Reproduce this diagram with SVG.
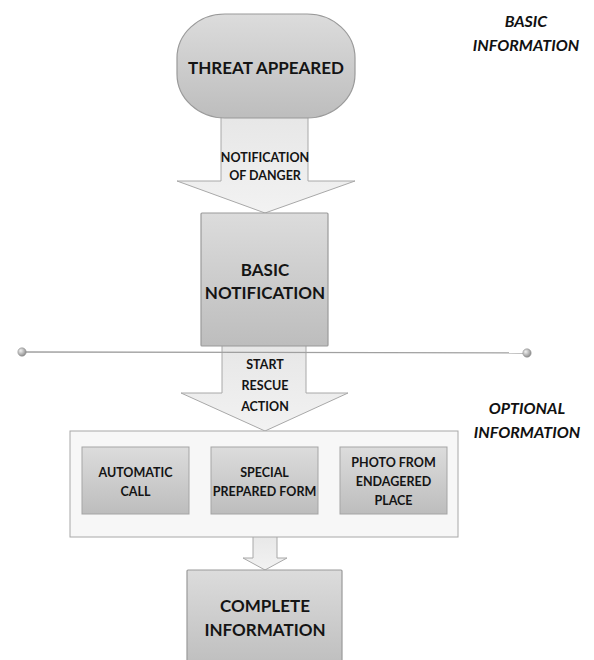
<svg xmlns="http://www.w3.org/2000/svg" width="594" height="660" viewBox="0 0 594 660">
<defs>
<linearGradient id="gNode" x1="0" y1="0" x2="0" y2="1">
<stop offset="0" stop-color="#dcdcdc"/><stop offset="1" stop-color="#bdbdbd"/>
</linearGradient>
<linearGradient id="gArrow" x1="0" y1="0" x2="0" y2="1">
<stop offset="0" stop-color="#e6e6e6"/><stop offset="1" stop-color="#f2f2f2"/>
</linearGradient>
<radialGradient id="gDot" cx="0.35" cy="0.35" r="0.7">
<stop offset="0" stop-color="#f0f0f0"/><stop offset="1" stop-color="#8a8a8a"/>
</radialGradient>
<style>
.node{fill:url(#gNode);stroke:#9a9a9a;stroke-width:1.2}
.inner{fill:url(#gNode);stroke:#a5a5a5;stroke-width:1}
.arrow{fill:url(#gArrow);stroke:#a8a8a8;stroke-width:1}
.t{font-family:Lato,"Liberation Sans",sans-serif;font-weight:bold;fill:#141414;text-anchor:middle}
.big{font-size:17px}
.sm{font-size:12.5px}
.side{font-family:Lato,"Liberation Sans",sans-serif;font-weight:bold;font-style:italic;font-size:16px;fill:#111;text-anchor:middle}
</style>
</defs>
<rect width="594" height="660" fill="#ffffff"/>
<g id="connectors">
<polygon class="arrow" points="221,110 308,110 308,181 355,181 265,213 177,181 221,181"/>
<polygon class="arrow" points="222,340 306,340 306,393 348,393 265,431 181,393 222,393"/>
<polygon class="arrow" points="253,530 277,530 277,558 287,558 265,570 243,558 253,558"/>
</g>
<g id="threat">
<rect class="node" x="177" y="14" width="178" height="104" rx="48" ry="44"/>
<text class="t big" x="266" y="74">THREAT APPEARED</text>
</g>
<g id="label1">
<text class="t sm" x="265" y="162">NOTIFICATION</text>
<text class="t sm" x="265" y="180">OF DANGER</text>
</g>
<g id="basic">
<rect class="node" x="201" y="213" width="127" height="133" rx="1"/>
<text class="t big" x="265" y="276">BASIC</text>
<text class="t big" x="265" y="299">NOTIFICATION</text>
</g>
<g id="divider">
<line x1="22" y1="352" x2="527" y2="353" stroke="#a0a0a0" stroke-width="1.3"/>
<circle cx="22" cy="352" r="4.2" fill="url(#gDot)" stroke="#888" stroke-width="0.5"/>
<circle cx="527" cy="353" r="4.2" fill="url(#gDot)" stroke="#888" stroke-width="0.5"/>
</g>
<g id="label2">
<text class="t sm" x="265" y="369">START</text>
<text class="t sm" x="265" y="390">RESCUE</text>
<text class="t sm" x="265" y="411">ACTION</text>
</g>
<g id="optional">
<rect x="70" y="431" width="388" height="106" fill="#f7f7f7" stroke="#a8a8a8" stroke-width="1"/>
</g>
<g id="auto">
<rect class="inner" x="82" y="447" width="107" height="67"/>
<text class="t sm" x="135.5" y="477">AUTOMATIC</text>
<text class="t sm" x="135.5" y="496">CALL</text>
</g>
<g id="form">
<rect class="inner" x="211" y="447" width="107" height="67"/>
<text class="t sm" x="264.5" y="477">SPECIAL</text>
<text class="t sm" x="264.5" y="496">PREPARED FORM</text>
</g>
<g id="photo">
<rect class="inner" x="340" y="447" width="107" height="67"/>
<text class="t sm" x="393.5" y="467">PHOTO FROM</text>
<text class="t sm" x="393.5" y="486">ENDAGERED</text>
<text class="t sm" x="393.5" y="505">PLACE</text>
</g>
<g id="complete">
<rect class="node" x="187" y="570" width="155" height="100" rx="1"/>
<text class="t big" x="265" y="612">COMPLETE</text>
<text class="t big" x="265" y="636">INFORMATION</text>
</g>
<g id="basic-info">
<text class="side" x="526" y="27">BASIC</text>
<text class="side" x="526" y="51">INFORMATION</text>
</g>
<g id="optional-info">
<text class="side" x="527" y="414">OPTIONAL</text>
<text class="side" x="527" y="438">INFORMATION</text>
</g>
</svg>
